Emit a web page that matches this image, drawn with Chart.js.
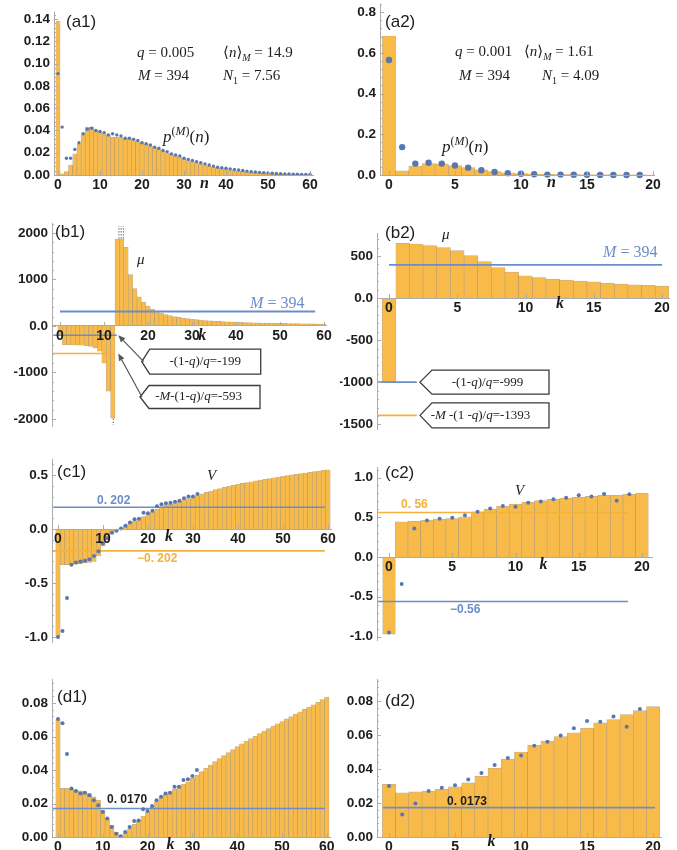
<!DOCTYPE html>
<html>
<head>
<meta charset="utf-8">
<script src="https://cdn.jsdelivr.net/npm/chart.js@4.4.1/dist/chart.umd.min.js"></script>
<style>
  html, body { margin: 0; padding: 0; background: #fff; }
  #page { position: relative; width: 677px; height: 850px; overflow: hidden; }
  #page canvas { position: absolute; }
</style>
</head>
<body>
<div id="page"></div>
<script>
// ---------- data ----------
const nValues60 = Array.from({length: 61}, (_, i) => i);
const nValues20 = Array.from({length: 21}, (_, i) => i);

// (a1) p^(M)(n), q = 0.005
const a1Bars = [0.138, 0.001, 0.003, 0.009, 0.019, 0.028, 0.037, 0.043, 0.043, 0.040,
  0.039, 0.037, 0.036, 0.034, 0.034, 0.0335, 0.033, 0.0326, 0.031, 0.030,
  0.029, 0.0275, 0.026, 0.0245, 0.023, 0.0215, 0.020, 0.0186, 0.017, 0.0156,
  0.0144, 0.013, 0.012, 0.011, 0.010, 0.009, 0.008, 0.0072, 0.0063, 0.0057,
  0.005, 0.0045, 0.004, 0.0036, 0.0032, 0.0028, 0.0025, 0.0022, 0.0019, 0.0017,
  0.0015, 0.0013, 0.0011, 0.001, 0.0008, 0.0007, 0.0006, 0.0005, 0.0004, 0.0003, 0.0002];
const a1Dots = [0.091, 0.043, 0.015, 0.015, 0.023, 0.029, 0.037, 0.041, 0.042, 0.040,
  0.039, 0.038, 0.036, 0.037, 0.036, 0.035, 0.033, 0.033, 0.032, 0.031,
  0.029, 0.028, 0.027, 0.025, 0.024, 0.022, 0.021, 0.019, 0.018, 0.017,
  0.015, 0.014, 0.013, 0.012, 0.011, 0.010, 0.009, 0.008, 0.007, 0.0065,
  0.006, 0.0055, 0.005, 0.0045, 0.004, 0.0035, 0.003, 0.0027, 0.0024, 0.0021,
  0.0018, 0.0016, 0.0014, 0.0012, 0.001, 0.0009, 0.0008, 0.0007, 0.0006, 0.0005, 0.0004];

// (a2) q = 0.001
const a2Bars = [0.683, 0.021, 0.044, 0.056, 0.055, 0.046, 0.036, 0.026, 0.017, 0.011,
  0.007, 0.004, 0.003, 0.002, 0.0015, 0.001, 0.0008, 0.0006, 0.0004, 0.0003, 0.0002];
const a2Dots = [0.565, 0.137, 0.056, 0.060, 0.056, 0.047, 0.036, 0.023, 0.015, 0.009,
  0.006, 0.004, 0.002, 0.002, 0.001, 0.001, 0.0005, 0.0004, 0.0003, 0.0002];

// (b1) mu
const b1Bars = [-199, -400, -405, -405, -410, -415, -425, -440, -470, -540,
  -800, -1400, -1980, 1870, 1870, 1690, 1105, 806, 626, 507,
  425, 361, 314, 277, 247, 222, 202, 184, 170, 157,
  146, 136, 127, 119, 112, 106, 100, 95, 91, 86,
  82, 79, 76, 73, 70, 67, 65, 63, 61, 59,
  57, 55, 53, 52, 50, 49, 47, 46, 45, 43, 41];
const b1RefValues = [310, -199, -593];

// (b2)
const b2Bars = [-999, 650, 642, 622, 599, 563, 504, 433, 362, 307, 264,
  244, 225, 213, 201, 193, 177, 165, 158, 150, 142];
const b2RefValues = [394, -999, -1393];

// (c1) V
const c1Bars = [-0.99, -0.33, -0.33, -0.33, -0.325, -0.32, -0.315, -0.31, -0.30, -0.25,
  -0.16, -0.08, -0.04, -0.015, 0.005, 0.03, 0.05, 0.075, 0.095, 0.115,
  0.135, 0.16, 0.185, 0.205, 0.22, 0.232, 0.245, 0.257, 0.27, 0.282,
  0.295, 0.31, 0.325, 0.34, 0.352, 0.364, 0.375, 0.386, 0.396, 0.405,
  0.414, 0.422, 0.43, 0.438, 0.446, 0.454, 0.461, 0.468, 0.475, 0.482,
  0.489, 0.495, 0.501, 0.507, 0.513, 0.519, 0.525, 0.531, 0.537, 0.543, 0.548];
const c1Dots = [-1.0, -0.945, -0.64, -0.33, -0.31, -0.30, -0.295, -0.28, -0.25, -0.205,
  -0.135, -0.085, -0.035, -0.015, 0.005, 0.03, 0.06, 0.09, 0.095, 0.15,
  0.145, 0.17, 0.21, 0.23, 0.238, 0.244, 0.253, 0.262, 0.284, 0.30, 0.30, 0.324];
const c1RefValues = [0.202, -0.202];

// (c2)
const c2Bars = [-0.97, 0.443, 0.45, 0.464, 0.477, 0.485, 0.506, 0.57, 0.603, 0.637,
  0.667, 0.692, 0.709, 0.726, 0.743, 0.751, 0.764, 0.776, 0.78, 0.789, 0.80];
const c2Dots = [-0.95, -0.338, 0.36, 0.46, 0.48, 0.494, 0.527, 0.57, 0.612, 0.641,
  0.633, 0.684, 0.70, 0.726, 0.747, 0.776, 0.76, 0.793, 0.709, 0.789];
const c2RefValues = [0.56, -0.56];

// (d1)
const d1Bars = [0.070, 0.029, 0.029, 0.0286, 0.028, 0.0276, 0.027, 0.026, 0.024, 0.022,
  0.016, 0.011, 0.007, 0.003, 0.0005, 0.0025, 0.005, 0.0076, 0.010, 0.0124,
  0.015, 0.018, 0.021, 0.024, 0.0256, 0.027, 0.0286, 0.030, 0.0316, 0.033,
  0.035, 0.037, 0.039, 0.041, 0.043, 0.045, 0.0468, 0.0486, 0.0504, 0.0522,
  0.054, 0.0556, 0.0572, 0.0588, 0.0603, 0.0618, 0.0633, 0.0648, 0.0662, 0.0676,
  0.069, 0.0705, 0.0719, 0.0734, 0.0748, 0.0762, 0.0776, 0.079, 0.0804, 0.082, 0.0836];
const d1Dots = [0.0705, 0.068, 0.0495, 0.029, 0.0275, 0.026, 0.0265, 0.025, 0.022, 0.019,
  0.015, 0.011, 0.006, 0.002, 0.0005, 0.003, 0.006, 0.0095, 0.0098, 0.0165,
  0.0155, 0.0185, 0.022, 0.024, 0.026, 0.0265, 0.030, 0.030, 0.034, 0.0345, 0.0365, 0.040];
const d1RefValues = [0.0170];

// (d2)
const d2Bars = [0.031, 0.026, 0.0265, 0.027, 0.028, 0.0295, 0.0318, 0.0358, 0.0405, 0.0458,
  0.050, 0.054, 0.0564, 0.059, 0.0613, 0.064, 0.0672, 0.069, 0.072, 0.0743, 0.0767];
const d2Dots = [0.030, 0.0132, 0.0197, 0.027, 0.0289, 0.0305, 0.0338, 0.0377, 0.0423, 0.0464,
  0.048, 0.0537, 0.056, 0.0597, 0.0639, 0.0682, 0.0678, 0.0708, 0.0649, 0.0753];
const d2RefValues = [0.0173];

// tick values and labels
const xTicks60 = [0, 10, 20, 30, 40, 50, 60];
const xTicks20 = [0, 5, 10, 15, 20];
const a1YTicks = [0, 0.02, 0.04, 0.06, 0.08, 0.10, 0.12, 0.14];
const a1YLabels = ['0.00', '0.02', '0.04', '0.06', '0.08', '0.10', '0.12', '0.14'];
const a2YTicks = [0, 0.2, 0.4, 0.6, 0.8];
const a2YLabels = ['0.0', '0.2', '0.4', '0.6', '0.8'];
const b1YTicks = [-2000, -1000, 0, 1000, 2000];
const b1YLabels = ['-2000', '-1000', '0.0', '1000', '2000'];
const b2YTicks = [-1500, -1000, -500, 0, 500];
const b2YLabels = ['-1500', '-1000', '-500', '0.0', '500'];
const c1YTicks = [-1, -0.5, 0, 0.5];
const c1YLabels = ['-1.0', '-0.5', '0.0', '0.5'];
const c2YTicks = [-1, -0.5, 0, 0.5, 1];
const c2YLabels = ['-1.0', '-0.5', '0.0', '0.5', '1.0'];
const dYTicks = [0, 0.02, 0.04, 0.06, 0.08];
const dYLabels = ['0.00', '0.02', '0.04', '0.06', '0.08'];

// ---------- styling ----------
const COLORS = {
    bar: '#f8ba48',
    barEdge: 'rgba(150,110,40,0.55)',
    dot: '#5877b0',
    blue: '#6b8dc8',
    orange: '#f4b23a',
    axis: '#ababab',
    text: '#1d1d1d'
};
const SANS = '"Liberation Sans", Arial, sans-serif';
const SERIF = '"Liberation Serif", "DejaVu Serif", serif';
const FONTS = {
    tag:  {family: SANS, size: 17, base: 'middle'},
    math: {family: SERIF, size: 15, base: 'alphabetic'},
    big:  {family: SERIF, size: 17, base: 'alphabetic'},
    mlab: {family: SERIF, size: 16, base: 'alphabetic'},
    axis: {family: SERIF, size: 16, bold: true, italic: true, base: 'middle', align: 'center'},
    num:  {family: SANS, size: 12, bold: true, base: 'middle'},
    box:  {family: SERIF, size: 13, base: 'middle', align: 'center'}
};

const qBox199 = [['-(1-'], ['q', 'i'], [')/'], ['q', 'i'], ['=-199']];
const qBox593 = [['-'], ['M', 'i'], ['-(1-'], ['q', 'i'], [')/'], ['q', 'i'], ['=-593']];
const qBox999 = [['-(1-'], ['q', 'i'], [')/'], ['q', 'i'], ['=-999']];
const qBox1393 = [['-'], ['M', 'i'], [' -(1 -'], ['q', 'i'], [')/'], ['q', 'i'], ['=-1393']];
const pLabel = [['p', 'i'], ['(', 'sup'], ['M', 'i sup'], [')', 'sup'], ['('], ['n', 'i'], [')']];

// ---------- panels ----------
const panels = [
    {
        box: [0, 0, 340, 200], plot: [54, 12.35, 313, 175],
        x: [-0.95, 60.71], y: [0, 0.146],
        xTicks: xTicks60, yTicks: a1YTicks, yLabels: a1YLabels,
        cats: nValues60, bars: a1Bars, dots: a1Dots, dotRadius: 1.7,
        refs: [],
        notes: [
            {at: [1.9, 0.1373], f: 'tag', parts: [['(a1)']]},
            {at: [18.81, 0.1059], f: 'math', parts: [['q', 'i'], [' = 0.005']]},
            {at: [39.29, 0.1059], f: 'math', parts: [['\u27E8'], ['n', 'i'], ['\u27E9'], ['M', 'i sub'], [' = 14.9']]},
            {at: [19.05, 0.0853], f: 'math', parts: [['M', 'i'], [' = 394']]},
            {at: [39.29, 0.0853], f: 'math', parts: [['N', 'i'], ['1', 'sub'], [' = 7.56']]},
            {at: [25.0, 0.0296], f: 'big', parts: pLabel},
            {at: [34.88, -0.0081], f: 'axis', parts: [['n']]}
        ]
    },
    {
        box: [340, 0, 337, 200], plot: [380, 3.85, 654, 175],
        x: [-0.68, 20.08], y: [0, 0.84],
        xTicks: xTicks20, yTicks: a2YTicks, yLabels: a2YLabels,
        cats: nValues20, bars: a2Bars, dots: a2Dots, dotRadius: 3.2,
        refs: [],
        notes: [
            {at: [-0.30, 0.751], f: 'tag', parts: [['(a2)']]},
            {at: [5.0, 0.584], f: 'math', parts: [['q', 'i'], [' = 0.001']]},
            {at: [10.23, 0.584], f: 'math', parts: [['\u27E8'], ['n', 'i'], ['\u27E9'], ['M', 'i sub'], [' = 1.61']]},
            {at: [5.30, 0.466], f: 'math', parts: [['M', 'i'], [' = 394']]},
            {at: [11.59, 0.466], f: 'math', parts: [['N', 'i'], ['1', 'sub'], [' = 4.09']]},
            {at: [4.02, 0.113], f: 'big', parts: pLabel},
            {at: [12.31, -0.039], f: 'axis', parts: [['n']]}
        ]
    },
    {
        box: [0, 200, 340, 232], plot: [52, 223.7, 326, 426.9],
        x: [-1.82, 60.45], y: [-2170, 2200],
        xTicks: xTicks60, yTicks: b1YTicks, yLabels: b1YLabels,
        cats: nValues60, bars: b1Bars,
        refs: [
            {value: b1RefValues[0], from: 0, to: 58, color: COLORS.blue, width: 2},
            {value: b1RefValues[1], from: -1.82, to: 12.9, color: COLORS.blue},
            {value: b1RefValues[2], from: -1.82, to: 12.5, color: COLORS.orange}
        ],
        notes: [
            {at: [-1.14, 2022], f: 'tag', parts: [['(b1)']]},
            {at: [17.5, 1333], f: 'math', parts: [['\u03BC', 'i']]},
            {at: [43.2, 387], f: 'mlab', color: COLORS.blue, parts: [['M', 'i'], [' = 394']]},
            {at: [32.3, -215], f: 'axis', parts: [['k']]}
        ],
        callouts: [
            {tip: [18.57, -768], dx: 8, w: 111, h: 25, parts: qBox199, to: [13.25, -199]},
            {tip: [18.18, -1527], dx: 9, w: 111, h: 23, tx: -6, parts: qBox593, to: [13.25, -593]}
        ],
        clipMarks: [
            {x: 13.4, from: 1880, to: 2150}, {x: 13.9, from: 1880, to: 2150}, {x: 14.4, from: 1880, to: 2150},
            {x: 12.1, from: -1990, to: -2130}
        ]
    },
    {
        box: [340, 200, 337, 232], plot: [377, 233.2, 669, 429.4],
        x: [-0.88, 20.51], y: [-1560, 770],
        xTicks: xTicks20, yTicks: b2YTicks, yLabels: b2YLabels,
        cats: nValues20, bars: b2Bars,
        refs: [
            {value: b2RefValues[0], from: 0, to: 20, color: COLORS.blue},
            {value: b2RefValues[1], from: -0.88, to: 2.03, color: COLORS.blue},
            {value: b2RefValues[2], from: -0.88, to: 2.03, color: COLORS.orange}
        ],
        notes: [
            {at: [-0.29, 772], f: 'tag', parts: [['(b2)']]},
            {at: [3.88, 701], f: 'math', parts: [['\u03BC', 'i']]},
            {at: [15.68, 487], f: 'mlab', color: COLORS.blue, parts: [['M', 'i'], [' = 394']]},
            {at: [12.53, -71], f: 'axis', parts: [['k']]}
        ],
        callouts: [
            {tip: [2.27, -999], dx: 12, w: 117, h: 24, tx: -3, parts: qBox999},
            {tip: [2.27, -1393], dx: 12, w: 117, h: 25, tx: -10, parts: qBox1393}
        ]
    },
    {
        box: [0, 432, 340, 215], plot: [52, 459.9, 331, 642.4],
        x: [-1.33, 60.67], y: [-1.05, 0.64],
        xTicks: xTicks60, yTicks: c1YTicks, yLabels: c1YLabels,
        cats: nValues60, bars: c1Bars, dots: c1Dots, dotRadius: 2,
        refs: [
            {value: c1RefValues[0], from: -1.33, to: 59.3, color: COLORS.blue},
            {value: c1RefValues[1], from: -1.33, to: 59.3, color: COLORS.orange}
        ],
        notes: [
            {at: [-0.22, 0.528], f: 'tag', parts: [['(c1)']]},
            {at: [33.1, 0.454], f: 'math', parts: [['V', 'i']]},
            {at: [8.67, 0.259], f: 'num', color: COLORS.blue, parts: [['0. 202']]},
            {at: [17.56, -0.278], f: 'num', color: COLORS.orange, parts: [['\u22120. 202']]},
            {at: [24.67, -0.074], f: 'axis', parts: [['k']]}
        ]
    },
    {
        box: [340, 432, 337, 215], plot: [377, 467.2, 652, 640.5],
        x: [-0.95, 20.79], y: [-1.05, 1.13],
        xTicks: xTicks20, yTicks: c2YTicks, yLabels: c2YLabels,
        cats: nValues20, bars: c2Bars, dots: c2Dots, dotRadius: 2,
        refs: [
            {value: c2RefValues[0], from: -0.95, to: 18.9, color: COLORS.orange},
            {value: c2RefValues[1], from: -0.95, to: 18.9, color: COLORS.blue}
        ],
        notes: [
            {at: [-0.32, 1.057], f: 'tag', parts: [['(c2)']]},
            {at: [9.96, 0.78], f: 'math', parts: [['V', 'i']]},
            {at: [0.95, 0.654], f: 'num', color: COLORS.orange, parts: [['0. 56']]},
            {at: [4.82, -0.667], f: 'num', color: COLORS.blue, parts: [['\u22120.56']]},
            {at: [12.21, -0.101], f: 'axis', parts: [['k']]}
        ]
    },
    {
        box: [0, 650, 340, 200], plot: [52, 679.6, 330, 837],
        x: [-1.34, 60.71], y: [0, 0.094],
        xTicks: xTicks60, yTicks: dYTicks, yLabels: dYLabels,
        cats: nValues60, bars: d1Bars, dots: d1Dots, dotRadius: 2,
        refs: [
            {value: d1RefValues[0], from: -1.34, to: 59.6, color: COLORS.blue}
        ],
        notes: [
            {at: [-0.22, 0.0836], f: 'tag', parts: [['(d1)']]},
            {at: [10.94, 0.0221], f: 'num', parts: [['0. 0170']]},
            {at: [25.1, -0.0048], f: 'axis', parts: [['k']]}
        ]
    },
    {
        box: [340, 650, 337, 200], plot: [377, 679.9, 661, 837],
        x: [-0.91, 20.6], y: [0, 0.0924],
        xTicks: xTicks20, yTicks: dYTicks, yLabels: dYLabels,
        cats: nValues20, bars: d2Bars, dots: d2Dots, dotRadius: 2,
        refs: [
            {value: d2RefValues[0], from: -0.45, to: 20.15, color: COLORS.blue}
        ],
        notes: [
            {at: [-0.30, 0.080], f: 'tag', parts: [['(d2)']]},
            {at: [4.39, 0.0206], f: 'num', parts: [['0. 0173']]},
            {at: [7.77, -0.0029], f: 'axis', parts: [['k']]}
        ]
    }
];

// ---------- drawing helpers ----------
function drawParts(ctx, x, y, parts, f, color) {
    const segs = parts.map(([t, st]) => {
        const tags = (st || '').split(' ');
        const small = tags.includes('sub') || tags.includes('sup');
        const size = small ? Math.round(f.size * 0.68) : f.size;
        const font = ((tags.includes('i') || f.italic) ? 'italic ' : '') +
            ((tags.includes('b') || f.bold) ? 'bold ' : '') + size + 'px ' + f.family;
        ctx.font = font;
        const dy = tags.includes('sub') ? f.size * 0.28 : (tags.includes('sup') ? -f.size * 0.42 : 0);
        return {t, font, dy, w: ctx.measureText(t).width};
    });
    const total = segs.reduce((s, g) => s + g.w, 0);
    let cx = f.align === 'center' ? x - total / 2 : x;
    ctx.fillStyle = color || COLORS.text;
    ctx.textAlign = 'left';
    ctx.textBaseline = f.base;
    segs.forEach(g => {
        ctx.font = g.font;
        ctx.fillText(g.t, cx, y + g.dy);
        cx += g.w;
    });
}

function arrow(ctx, x1, y1, x2, y2) {
    const ang = Math.atan2(y2 - y1, x2 - x1);
    const len = 7, half = 3;
    const bx = x2 - len * Math.cos(ang), by = y2 - len * Math.sin(ang);
    ctx.beginPath();
    ctx.moveTo(x1, y1);
    ctx.lineTo(bx, by);
    ctx.stroke();
    ctx.beginPath();
    ctx.moveTo(x2, y2);
    ctx.lineTo(bx - half * Math.sin(ang), by + half * Math.cos(ang));
    ctx.lineTo(bx + half * Math.sin(ang), by - half * Math.cos(ang));
    ctx.closePath();
    ctx.fill();
}

function decor(p) {
    return {
        id: 'decor',
        afterDraw(chart) {
            const ctx = chart.ctx;
            const xs = chart.scales.x, ys = chart.scales.y;
            const at = (x, y) => [xs.getPixelForValue(x), ys.getPixelForValue(y)];
            ctx.save();

            // small tick marks on the axes
            ctx.strokeStyle = COLORS.axis;
            ctx.lineWidth = 1;
            const ax = chart.chartArea.left;
            const step = (p.yTicks[1] - p.yTicks[0]) / 5;
            for (let j = -60; j <= 120; j++) {
                const v = p.yTicks[0] + j * step;
                if (v < p.y[0] - 1e-9 || v > p.y[1] + 1e-9) continue;
                const major = j % 5 === 0;
                const py = Math.round(ys.getPixelForValue(v)) + 0.5;
                ctx.beginPath();
                ctx.moveTo(ax, py);
                ctx.lineTo(ax + (major ? 4 : 2), py);
                ctx.stroke();
            }
            const y0 = ys.getPixelForValue(0);
            p.xTicks.forEach(v => {
                const px = Math.round(xs.getPixelForValue(v)) + 0.5;
                ctx.beginPath();
                ctx.moveTo(px, y0);
                ctx.lineTo(px, y0 - 4);
                ctx.stroke();
            });

            // dotted continuation of clipped bars
            (p.clipMarks || []).forEach(m => {
                const [px, a] = at(m.x, m.from);
                const b = ys.getPixelForValue(m.to);
                ctx.strokeStyle = '#666';
                ctx.setLineDash([1.5, 1.5]);
                ctx.beginPath();
                ctx.moveTo(px, a);
                ctx.lineTo(px, b);
                ctx.stroke();
                ctx.setLineDash([]);
            });

            // callout boxes with arrows
            (p.callouts || []).forEach(c => {
                const [tx, ty] = at(c.tip[0], c.tip[1]);
                const l = tx + c.dx, r = l + c.w, t = ty - c.h / 2, b = ty + c.h / 2;
                ctx.beginPath();
                ctx.moveTo(tx, ty);
                ctx.lineTo(l, t);
                ctx.lineTo(r, t);
                ctx.lineTo(r, b);
                ctx.lineTo(l, b);
                ctx.closePath();
                ctx.fillStyle = '#fff';
                ctx.fill();
                ctx.strokeStyle = '#3c3c3c';
                ctx.lineWidth = 1.3;
                ctx.stroke();
                drawParts(ctx, (l + r) / 2 + (c.tx || 0), ty, c.parts, FONTS.box, '#222');
                if (c.to) {
                    const [ex, ey] = at(c.to[0], c.to[1]);
                    ctx.strokeStyle = '#555';
                    ctx.fillStyle = '#555';
                    ctx.lineWidth = 1.2;
                    arrow(ctx, tx + 2, ty, ex, ey);
                }
            });

            // text notes
            p.notes.forEach(n => {
                const [px, py] = at(n.at[0], n.at[1]);
                drawParts(ctx, px, py, n.parts, FONTS[n.f], n.color);
            });
            ctx.restore();
        }
    };
}

// ---------- build charts ----------
const page = document.getElementById('page');

function makePanel(p) {
    const cv = document.createElement('canvas');
    cv.width = p.box[2];
    cv.height = p.box[3];
    cv.style.left = p.box[0] + 'px';
    cv.style.top = p.box[1] + 'px';
    page.appendChild(cv);
    const axisW = p.plot[0] - p.box[0];

    const datasets = [];
    if (p.dots) {
        datasets.push({
            type: 'line',
            data: p.dots.map((v, i) => ({x: p.cats[i], y: v})),
            showLine: false,
            pointRadius: p.dotRadius,
            pointBackgroundColor: COLORS.dot,
            pointBorderWidth: 0,
            order: 0,
            clip: false
        });
    }
    p.refs.forEach(r => {
        datasets.push({
            type: 'line',
            data: [{x: r.from, y: r.value}, {x: r.to, y: r.value}],
            borderColor: r.color,
            borderWidth: r.width || 1.6,
            pointRadius: 0,
            order: 1,
            clip: false
        });
    });
    datasets.push({
        type: 'bar',
        data: p.bars.map((v, i) => ({x: p.cats[i], y: v})),
        backgroundColor: COLORS.bar,
        borderColor: COLORS.barEdge,
        borderWidth: 0.7,
        barPercentage: 1,
        categoryPercentage: 1,
        order: 2
    });

    const tickFont = {family: SANS, size: 13.5, weight: 'bold'};

    new Chart(cv, {
        type: 'bar',
        data: {datasets},
        options: {
            responsive: false,
            animation: false,
            devicePixelRatio: 1,
            layout: {
                padding: {
                    left: 0,
                    top: p.plot[1] - p.box[1],
                    right: p.box[0] + p.box[2] - p.plot[2],
                    bottom: p.box[1] + p.box[3] - p.plot[3]
                }
            },
            plugins: {legend: {display: false}, tooltip: {enabled: false}},
            scales: {
                x: {
                    type: 'linear',
                    position: {y: 0},
                    min: p.x[0],
                    max: p.x[1],
                    offset: false,
                    grid: {display: false, drawTicks: false},
                    border: {display: true, color: COLORS.axis, width: 1, z: 1},
                    ticks: {
                        z: 1, padding: 2, font: {family: SANS, size: 14, weight: 'bold'},
                        color: COLORS.text, maxRotation: 0, autoSkip: false,
                        callback: v => String(v)
                    },
                    afterBuildTicks: s => { s.ticks = p.xTicks.map(v => ({value: v})); },
                    afterFit: s => { s.paddingLeft = s.paddingRight = s.paddingTop = s.paddingBottom = 0; }
                },
                y: {
                    type: 'linear',
                    position: 'left',
                    min: p.y[0],
                    max: p.y[1],
                    grid: {display: false, drawTicks: false},
                    border: {display: true, color: COLORS.axis, width: 1, z: 1},
                    ticks: {
                        padding: 4, font: tickFont, color: COLORS.text, autoSkip: false,
                        callback: (v, i) => p.yLabels[i]
                    },
                    afterBuildTicks: s => { s.ticks = p.yTicks.map(v => ({value: v})); },
                    afterFit: s => { s.width = axisW; s.paddingTop = s.paddingBottom = 0; }
                }
            }
        },
        plugins: [decor(p)]
    });
}

panels.forEach(makePanel);
</script>
</body>
</html>
